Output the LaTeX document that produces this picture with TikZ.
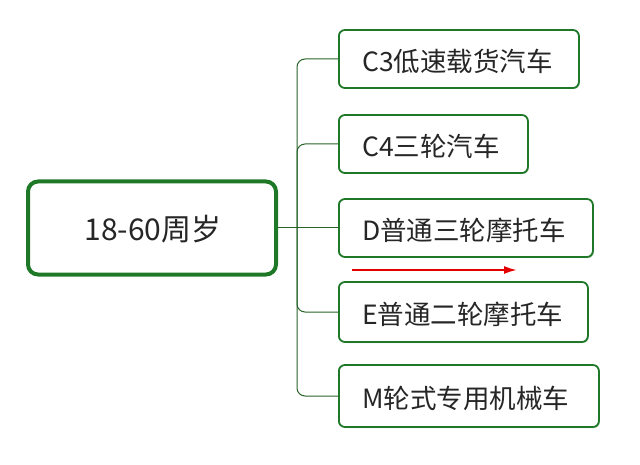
\documentclass[tikz,border=0pt]{standalone}
\usepackage{fontspec}
\newfontfamily\cjk{Noto Sans CJK SC}
\usetikzlibrary{shadows,arrows.meta}
\definecolor{bgreen}{RGB}{30,120,40}
\definecolor{lgreen}{RGB}{40,100,40}
\tikzset{
 leaf/.style={draw=bgreen,line width=1.8pt,rounded corners=6pt,fill=white,anchor=west,
   minimum height=58pt,
   drop shadow={shadow xshift=1pt,shadow yshift=-1pt,fill=green!40!black,opacity=0.25}},
 ltext/.style={font=\cjk\fontsize{26.5}{30}\selectfont,text=black!85,anchor=west,inner sep=0pt},
 conn/.style={draw=lgreen,line width=1pt,rounded corners=8pt}
}
\begin{document}
\begin{tikzpicture}[x=1pt,y=-1pt]
\useasboundingbox (0,0) rectangle (640,465);
\node[draw=bgreen,line width=4pt,rounded corners=10pt,fill=white,minimum width=248pt,minimum height=93pt] (root) at (152,228) {};
\node[font=\cjk\fontsize{30}{34}\selectfont,text=black!85] (rt) at (153,229) {18-60周岁};
\node[leaf,minimum width=240pt] (a) at (338,59) {};
\node[ltext] (ta) at (362,61) {C3低速载货汽车};
\node[leaf,minimum width=189pt] (b) at (338,144) {};
\node[ltext] (tb) at (362,146) {C4三轮汽车};
\node[leaf,minimum width=254pt] (c) at (338,228) {};
\node[ltext] (tc) at (362,230) {D普通三轮摩托车};
\node[leaf,minimum width=249pt,minimum height=60pt] (d) at (338,312) {};
\node[ltext] (td) at (362,314) {E普通二轮摩托车};
\node[leaf,minimum width=260pt,minimum height=62pt] (e) at (338,396) {};
\node[ltext] (te) at (362,398) {M轮式专用机械车};
\coordinate (j) at (297,228);
\draw[conn] (root.east) -- (j);
\draw[conn] (j) |- (a.west);
\draw[conn] (j) |- (b.west);
\draw[conn] (j) -- (c.west);
\draw[conn] (j) |- (d.west);
\draw[conn] (j) |- (e.west);
\coordinate (r1) at (352,270);
\coordinate (r2) at (517,270);
\draw[red!90!black,line width=1.8pt,-{Latex[length=13pt,width=8pt]}] (r1) -- (r2);
\end{tikzpicture}
\end{document}
